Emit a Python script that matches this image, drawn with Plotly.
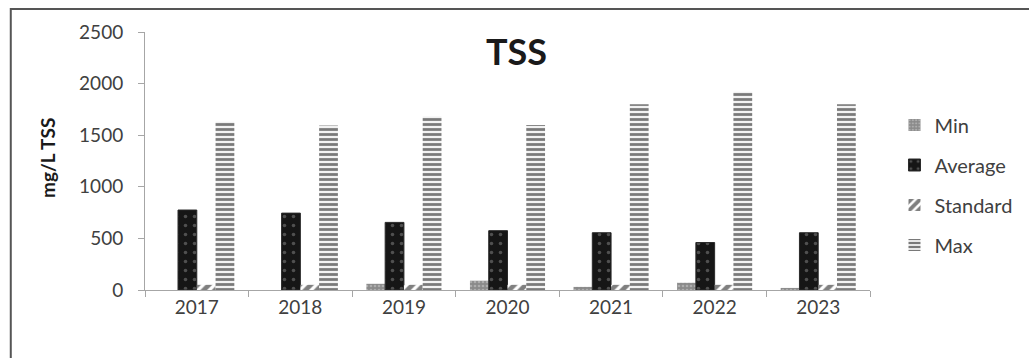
import plotly.graph_objects as go

# Annual TSS concentrations (mg/L)
years = ["2017", "2018", "2019", "2020", "2021", "2022", "2023"]
tss_min = [0, 0, 60, 90, 30, 70, 20]
tss_average = [775, 745, 655, 575, 555, 460, 555]
tss_standard = [50, 50, 50, 50, 50, 50, 50]
tss_max = [1630, 1595, 1680, 1600, 1800, 1920, 1800]
y_ticks = [0, 500, 1000, 1500, 2000, 2500]

FONT = "Lato"

fig = go.Figure()

fig.add_trace(go.Bar(
    name="Min", x=years, y=tss_min, legendgroup="a",
    marker=dict(color="#8a8a8a", line=dict(width=0),
                pattern=dict(shape=".", fgcolor="#cfcfcf", bgcolor="#8a8a8a",
                             size=4, solidity=0.35)),
))
fig.add_trace(go.Bar(
    name="Average", x=years, y=tss_average, legendgroup="b",
    marker=dict(color="#161616", line=dict(width=1, color="#2a2a2a"),
                pattern=dict(shape=".", fgcolor="#8a8a8a", bgcolor="#161616",
                             size=9, solidity=0.12)),
))
fig.add_trace(go.Bar(
    name="Standard", x=years, y=tss_standard, legendgroup="c",
    marker=dict(color="white", line=dict(width=0),
                pattern=dict(shape="/", fgcolor="#000000", bgcolor="white",
                             size=8, solidity=0.6)),
))
fig.add_trace(go.Bar(
    name="Max", x=years, y=tss_max, legendgroup="d",
    marker=dict(color="white", line=dict(width=0),
                pattern=dict(shape="-", fgcolor="#000000", bgcolor="#f2f2f2",
                             size=5, solidity=0.55)),
))

L, R, T, B = 145, 144, 32, 68
W, H = 1029, 358
pw, ph = W - L - R, H - T - B

fig.update_layout(
    width=W, height=H,
    margin=dict(l=L, r=R, t=T, b=B),
    paper_bgcolor="white", plot_bgcolor="white",
    barmode="group", bargap=0.275, bargroupgap=0,
    font=dict(family=FONT, size=19, color="#404040"),
    showlegend=True,
    legend=dict(x=(910 - L) / pw, xanchor="left", y=(290 - 185) / ph, yanchor="middle",
                traceorder="grouped", tracegroupgap=11,
                font=dict(family=FONT, size=20, color="#404040"),
                bgcolor="rgba(0,0,0,0)", itemwidth=30),
    xaxis=dict(type="category", range=[-0.5, 6.5], showline=True, linecolor="#a6a6a6",
               linewidth=1, ticks="outside", tickson="boundaries", ticklen=6,
               tickcolor="#a6a6a6", showgrid=False, zeroline=False,
               tickfont=dict(family=FONT, size=19, color="#404040")),
    yaxis=dict(range=[0, 2500], tickvals=y_ticks, showline=True, linecolor="#a6a6a6",
               linewidth=1, ticks="outside", ticklen=6, tickcolor="#a6a6a6",
               showgrid=False, zeroline=False, ticklabelstandoff=11,
               tickfont=dict(family=FONT, size=19, color="#404040")),
)

fig.add_annotation(text="<b>TSS</b>", xref="paper", yref="paper",
                   x=(524 - L) / pw, y=(290 - 51) / ph, xanchor="center", yanchor="middle",
                   showarrow=False, font=dict(family=FONT, size=36, color="#1a1a1a"))
fig.add_annotation(text="<b>mg/L TSS</b>", xref="paper", yref="paper",
                   x=(45 - L) / pw, y=(290 - 158) / ph, xanchor="center", yanchor="middle",
                   textangle=-90, showarrow=False,
                   font=dict(family=FONT, size=19, color="#1a1a1a"))

# chart frame
fig.add_shape(type="rect", xref="paper", yref="paper",
              x0=(8 - L) / pw, x1=(1060 - L) / pw, y0=(290 - 400) / ph, y1=(290 - 9) / ph,
              line=dict(color="#555555", width=2), fillcolor="rgba(0,0,0,0)", layer="below")

fig.write_html("out.html")
